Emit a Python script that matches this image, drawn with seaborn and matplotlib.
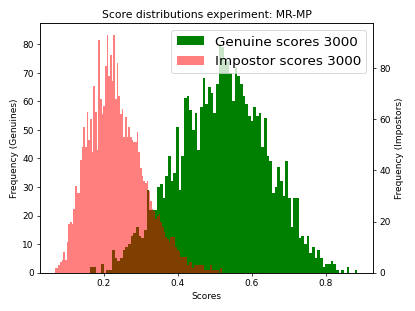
import numpy as np
import pandas as pd
import matplotlib
matplotlib.use("Agg")
import matplotlib.pyplot as plt
import seaborn as sns
from matplotlib.patches import Patch

# ---- data ----
TITLE = "Score distributions experiment: MR-MP"
GEN_LABEL = "Genuine scores 3000"
IMP_LABEL = "Impostor scores 3000"

# score ranges of each histogram (100 bins each)
GEN_RANGE = [0.1635, 0.8857]
IMP_RANGE = [0.0677, 0.5190]

genuine_counts = [
    2, 2, 0, 0, 3, 0, 1, 1, 8, 5,
    4, 5, 8, 9, 10, 13, 14, 16, 13, 12,
    15, 29, 22, 22, 22, 30, 31, 26, 34, 41,
    32, 35, 51, 29, 41, 61, 62, 57, 50, 56,
    43, 58, 68, 59, 65, 63, 56, 66, 80, 79,
    74, 74, 70, 60, 72, 69, 66, 62, 59, 55,
    53, 58, 55, 56, 44, 54, 41, 39, 28, 30,
    37, 32, 27, 39, 26, 16, 26, 26, 12, 13,
    10, 13, 7, 9, 5, 8, 5, 2, 3, 3,
    4, 3, 1, 0, 1, 0, 2, 0, 0, 1,
]

impostor_counts = [
    2, 2, 3, 4, 5, 8, 5, 12, 19, 20,
    19, 25, 34, 31, 31, 44, 49, 57, 49, 63,
    52, 60, 47, 73, 63, 48, 91, 68, 62, 65,
    81, 93, 77, 85, 75, 93, 68, 82, 69, 62,
    64, 53, 61, 53, 57, 53, 52, 51, 51, 55,
    47, 41, 38, 36, 35, 36, 32, 28, 25, 24,
    21, 22, 23, 20, 18, 16, 14, 13, 12, 14,
    14, 14, 10, 9, 8, 6, 6, 6, 6, 3,
    4, 4, 2, 3, 3, 3, 3, 3, 3, 1,
    1, 1, 1, 3, 1, 1, 1, 1, 0, 2,
]

# ---- figure ----
DPI = 64.85
fig = plt.figure(figsize=(6.4, 4.8), dpi=DPI)
ax1 = fig.add_subplot(111)
fig.subplots_adjust(left=0.0964, right=0.899, bottom=0.123, top=0.925)

n_gen = len(genuine_counts)
n_imp = len(impostor_counts)
gen_w = (GEN_RANGE[1] - GEN_RANGE[0]) / n_gen
imp_w = (IMP_RANGE[1] - IMP_RANGE[0]) / n_imp
gen_df = pd.DataFrame({"score": GEN_RANGE[0] + gen_w * (np.arange(n_gen) + 0.5),
                       "count": np.asarray(genuine_counts, dtype=float)})
imp_df = pd.DataFrame({"score": IMP_RANGE[0] + imp_w * (np.arange(n_imp) + 0.5),
                       "count": np.asarray(impostor_counts, dtype=float)})

sns.histplot(data=gen_df, x="score", weights="count", bins=n_gen,
             binrange=tuple(GEN_RANGE), ax=ax1,
             color="green", alpha=1.0, linewidth=0, stat="count")
ax1.set_ylabel("Frequency (Genuines)")
ax1.set_xlabel("Scores")

ax2 = ax1.twinx()
sns.histplot(data=imp_df, x="score", weights="count", bins=n_imp,
             binrange=tuple(IMP_RANGE), ax=ax2,
             color="red", alpha=0.5, linewidth=0, stat="count")
ax2.set_ylabel("Frequency (Impostors)")
ax2.set_xlabel("Scores")

ax1.set_ylim(0, 87.4)
ax2.set_ylim(0, 97.6)
ax1.set_xlim(0.027, 0.928)

ax1.set_title(TITLE)

handles = [Patch(facecolor="green", edgecolor="none"),
           Patch(facecolor="red", alpha=0.5, edgecolor="none")]
ax2.legend(handles, [GEN_LABEL, IMP_LABEL], loc="upper right", fontsize=15)

fig.savefig("out.png", dpi=DPI)
